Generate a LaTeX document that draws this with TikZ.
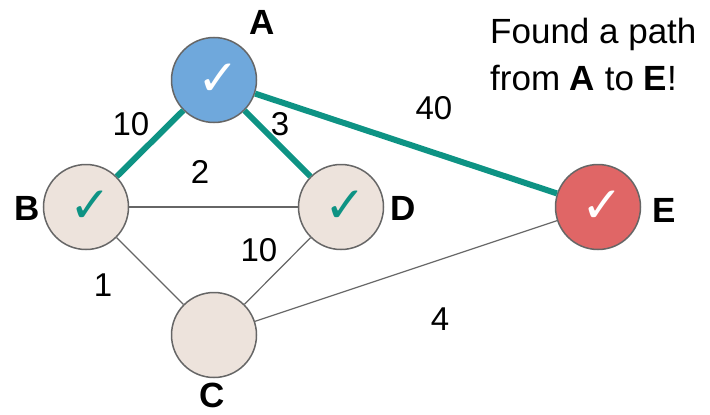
\documentclass[tikz,border=0pt]{standalone}
\usepackage{fontspec}
\setmainfont{Liberation Sans}
\newfontfamily\symfont{DejaVu Sans}
\usepackage{tikz}
\usepackage{xcolor}
\definecolor{nodegray}{HTML}{666666}
\definecolor{beige}{HTML}{EDE3DC}
\definecolor{vblue}{HTML}{6FA8DC}
\definecolor{vred}{HTML}{E06666}
\definecolor{teal}{HTML}{0E9384}

\tikzset{
  vtx/.style={circle,draw=nodegray,line width=1.5pt,minimum size=85pt,inner sep=0pt},
  vname/.style={font=\fontsize{35}{40}\selectfont\bfseries},
  wt/.style={font=\fontsize{33}{38}\selectfont},
  thin edge/.style={draw=nodegray,line width=1.2pt},
  path edge/.style={draw=teal,line width=6pt},
  tick/.style={font=\symfont\fontsize{50}{50}\selectfont}
}

\begin{document}
\begin{tikzpicture}[x=1pt,y=1pt]
\useasboundingbox (0,0) rectangle (710,-415);
% vertices
\node[vtx,fill=vblue] (A) at (214,-80) {};
\node[vtx,fill=beige] (B) at (86,-207) {};
\node[vtx,fill=beige] (D) at (341,-207) {};
\node[vtx,fill=vred] (E) at (598,-207) {};
\node[vtx,fill=beige] (C) at (214,-335) {};
% edges
\draw[thin edge] (B) -- (D);
\draw[thin edge] (B) -- (C);
\draw[thin edge] (D) -- (C);
\draw[thin edge] (C) -- (E);
\draw[path edge] (A) -- (B);
\draw[path edge] (A) -- (D);
\draw[path edge] (A) -- (E);
% check marks
\node[tick,text=white] (ta) at (218,-80) {✓};
\node[tick,text=teal] (tb) at (90,-207) {✓};
\node[tick,text=teal] (td) at (345,-207) {✓};
\node[tick,text=white] (te) at (602,-207) {✓};
% vertex names
\node[vname] (la) at (262,-22) {A};
\node[vname] (lb) at (27,-208) {B};
\node[vname] (ld) at (403,-208) {D};
\node[vname] (le) at (664,-210) {E};
\node[vname] (lc) at (212,-395) {C};
% weights
\node[wt] (w1) at (131,-124) {10};
\node[wt] (w2) at (280,-124) {3};
\node[wt] (w3) at (434,-108) {40};
\node[wt] (w4) at (200,-172) {2};
\node[wt] (w5) at (259,-250) {10};
\node[wt] (w6) at (103,-285) {1};
\node[wt] (w7) at (440,-319) {4};
% message
\node[anchor=north west,align=left,font=\fontsize{35}{47}\selectfont,inner sep=0pt] (msg) at (490,-18)
  {Found a path\\from \textbf{A} to \textbf{E}!};
\end{tikzpicture}
\end{document}
